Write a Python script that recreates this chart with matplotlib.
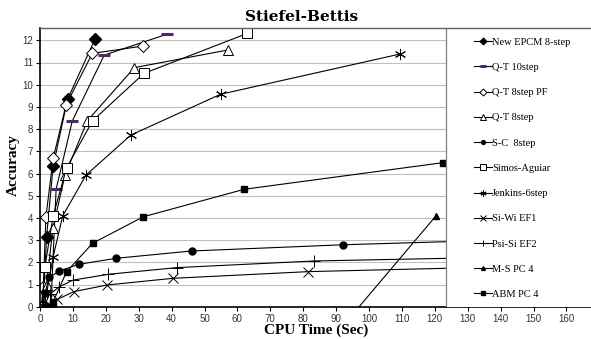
import matplotlib
matplotlib.use("Agg")
import matplotlib.pyplot as plt
from matplotlib.patches import Rectangle

# ---- data (CPU time [s], accuracy) ----
epcm_x = [0.6, 1.2, 2.0, 4.0, 8.4, 16.7]
epcm_y = [0.0, 0.8, 3.15, 6.34, 9.35, 12.05]

qt10_x = [3.3, 4.9, 9.8, 19.5, 38.7]
qt10_y = [0.0, 5.29, 8.36, 11.33, 12.28]

qt8pf_x = [0.4, 1.0, 1.8, 4.0, 7.9, 15.9, 31.2]
qt8pf_y = [0.0, 0.9, 4.05, 6.68, 9.08, 11.41, 11.74]

qt8_x = [0.8, 2.0, 3.9, 7.6, 14.4, 28.7, 57.0]
qt8_y = [0.0, 1.0, 3.53, 5.93, 8.38, 10.77, 11.56]

sc8_x = [0.5, 1.5, 2.8, 5.9, 11.8, 23.1, 46.1, 92.2, 185.0]
sc8_y = [0.0, 0.6, 1.32, 1.61, 1.91, 2.18, 2.51, 2.79, 3.2]

sa_x = [0.6, 1.5, 4.0, 8.1, 16.0, 31.6, 63.0]
sa_y = [0.0, 1.8, 4.1, 6.26, 8.38, 10.51, 12.31]

jen_x = [1.0, 2.0, 4.0, 6.9, 14.0, 27.6, 54.9, 109.4]
jen_y = [0.0, 0.6, 2.25, 4.09, 5.93, 7.73, 9.57, 11.38]

siwi_x = [1.3, 2.6, 5.3, 10.3, 20.5, 40.5, 81.6, 165.0]
siwi_y = [0.0, 0.05, 0.33, 0.68, 0.98, 1.28, 1.58, 1.88]

psisi_x = [0.7, 1.5, 2.9, 5.9, 10.1, 20.8, 41.5, 83.4, 165.0]
psisi_y = [0.0, 0.1, 0.55, 0.9, 1.2, 1.46, 1.76, 2.06, 2.3]

ms_x = [80.0, 120.4]
ms_y = [-2.98, 4.1]

abm_x = [2.0, 4.0, 8.1, 16.0, 31.4, 62.1, 122.6]
abm_y = [0.0, 0.23, 1.58, 2.86, 4.05, 5.29, 6.49]

labels = ["New EPCM 8-step", "Q-T 10step", "Q-T 8step PF", "Q-T 8step",
          "S-C  8step", "Simos-Aguiar", "Jenkins-6step", "Si-Wi EF1",
          "Psi-Si EF2", "M-S PC 4", "ABM PC 4"]
xticks = list(range(0, 170, 10))
yticks = list(range(0, 13))

W, H = 591, 339
fig = plt.figure(figsize=(W / 100, H / 100), dpi=100)
ax = fig.add_axes([40 / W, (H - 306.7) / H, (W - 40) / W, (306.7 - 28) / H])
xmax = (W - 40) / 3.29
plot_right = (446 - 40) / 3.29
ymax = (306.7 - 28) / 22.2
ax.set_xlim(0, xmax)
ax.set_ylim(0, ymax)

# gridlines only in visible plot area
for yv in yticks[1:]:
    ax.plot([0, plot_right], [yv, yv], color="#c0c0c0", lw=0.8, zorder=1)

lw = 0.8
series = [
    (epcm_x, epcm_y, dict(marker="D", ms=6, mfc="black", mec="black")),
    (qt10_x, qt10_y, dict(marker="_", ms=8, mew=2.2, mec="#4a2a6a")),
    (qt8pf_x, qt8pf_y, dict(marker="D", ms=6.5, mfc="white", mec="black", mew=0.7)),
    (qt8_x, qt8_y, dict(marker="^", ms=7, mfc="white", mec="black", mew=0.7)),
    (sc8_x, sc8_y, dict(marker="o", ms=5, mfc="black", mec="black")),
    (sa_x, sa_y, dict(marker="s", ms=7, mfc="white", mec="black", mew=0.7)),
    (jen_x, jen_y, dict(marker=(6, 2, 0), ms=8, mec="black", mew=0.7)),
    (siwi_x, siwi_y, dict(marker="x", ms=7, mec="black", mew=0.7)),
    (psisi_x, psisi_y, dict(marker="+", ms=9, mec="black", mew=0.7)),
    (ms_x, ms_y, dict(marker="^", ms=5, mfc="black", mec="black")),
    (abm_x, abm_y, dict(marker="s", ms=5, mfc="black", mec="black")),
]
handles = []
for (xs, ys, st), lab in zip(series, labels):
    h, = ax.plot(xs, ys, color="black", lw=lw, label=lab, zorder=2, **st)
    handles.append(h)

# white legend area covering right part of the axes
ax.add_patch(Rectangle((plot_right, 0), xmax - plot_right, ymax, facecolor="white",
                       edgecolor="none", zorder=3))
ax.plot([plot_right, plot_right], [0, ymax], color="#808080", lw=0.9, zorder=4)

leg = ax.legend(handles=handles, loc="upper left",
                bbox_to_anchor=(474 / W, (H - 37.5) / H), bbox_transform=fig.transFigure,
                frameon=False, prop={"family": "Liberation Serif", "size": 7.5},
                handlelength=1.7, handletextpad=0.05, labelspacing=1.53, markerscale=0.55,
                borderaxespad=0, borderpad=0)
leg.set_zorder(5)

ax.spines["right"].set_visible(False)
ax.spines["top"].set_color("#606060")
ax.spines["left"].set_color("black")
ax.spines["bottom"].set_color("black")
ax.spines["left"].set_linewidth(1.2)
ax.spines["bottom"].set_linewidth(1.2)
ax.spines["top"].set_linewidth(1.0)
ax.spines["top"].set_zorder(6)

ax.set_xticks(xticks)
ax.set_yticks(yticks)
ax.tick_params(axis="both", direction="out", length=3, width=0.8, labelsize=7,
               labelcolor="#333333", pad=2)
for lab in ax.get_xticklabels() + ax.get_yticklabels():
    lab.set_family("Liberation Sans")

fig.text(302 / W, 1 - 17 / H, "Stiefel-Bettis", ha="center", va="center",
         fontsize=11, fontweight="bold", family="DejaVu Serif")
fig.text(316 / W, 1 - 330 / H, "CPU Time (Sec)", ha="center", va="center",
         fontsize=11, fontweight="bold", family="Liberation Serif")
fig.text(13 / W, 1 - 165 / H, "Accuracy", ha="center", va="center", rotation=90,
         fontsize=11, fontweight="bold", family="Liberation Serif")

fig.savefig("out.png", dpi=100)
